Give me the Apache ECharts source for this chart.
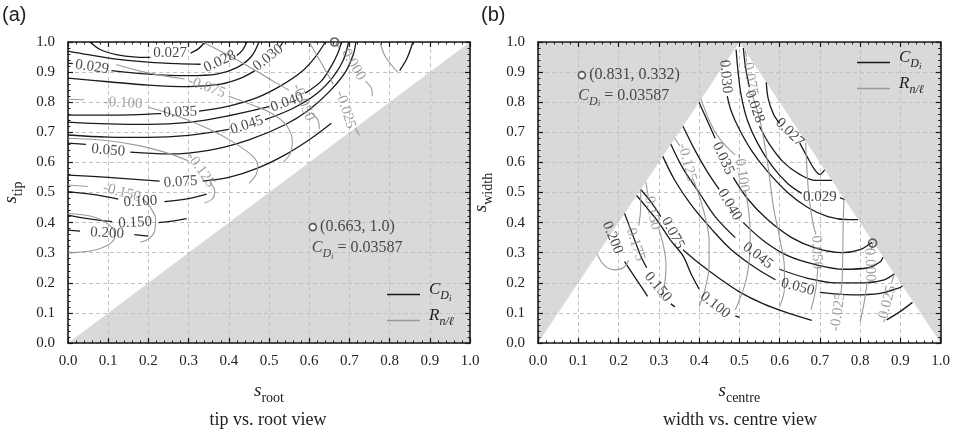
<!DOCTYPE html>
<html><head><meta charset="utf-8">
<script src="https://cdn.jsdelivr.net/npm/echarts@6/dist/echarts.min.js"></script>
<style>html,body{margin:0;padding:0;background:#fff}#c{width:953px;height:432px}</style>
</head><body><div id="c"></div><script>
// ---------- tick labels ----------
const tickLabels = ['0.0','0.1','0.2','0.3','0.4','0.5','0.6','0.7','0.8','0.9','1.0'];

// ---------- panel (a): C_Di contours (black) ----------
const c027a = [[0.055,1.0],[0.08,0.975],[0.12,0.958],[0.17,0.95],[0.205,0.949],null,[0.305,0.963],[0.325,0.978],[0.34,1.0]];
const c028a = [[0,0.97],[0.05,0.958],[0.12,0.943],[0.2,0.933],[0.27,0.928],[0.33,0.926],null,[0.42,0.955],[0.435,0.975],[0.445,1.0]];
const c029a = [[0,0.93],[0.012,0.928],null,[0.108,0.905],[0.2,0.893],[0.3,0.888],[0.37,0.893],[0.42,0.915],[0.455,0.95],[0.475,1.0]];
const c030a = [[0,0.88],[0.1,0.868],[0.2,0.857],[0.3,0.852],[0.38,0.86],[0.43,0.88],[0.465,0.905],null,[0.528,0.985],[0.535,1.0]];
const c035a = [[0,0.757],[0.1,0.757],[0.232,0.762],null,[0.326,0.77],[0.4,0.787],[0.47,0.815],[0.53,0.855],[0.58,0.9],[0.615,0.95],[0.64,1.0]];
const c040a = [[0,0.734],[0.1,0.728],[0.2,0.726],[0.3,0.733],[0.4,0.755],[0.5,0.785],null,[0.59,0.83],[0.63,0.87],[0.655,0.92],[0.672,0.965],[0.68,1.0]];
const c045a = [[0,0.691],[0.1,0.684],[0.2,0.683],[0.3,0.69],[0.4,0.71],null,[0.49,0.742],[0.56,0.78],[0.62,0.83],[0.66,0.885],[0.685,0.94],[0.698,1.0]];
const c050a = [[0,0.664],[0.045,0.66],null,[0.155,0.634],[0.25,0.628],[0.35,0.64],[0.45,0.675],[0.54,0.725],[0.6,0.775],[0.65,0.835],[0.69,0.9],[0.71,0.96],[0.716,1.0]];
const c075a = [[0,0.558],[0.1,0.55],[0.228,0.538],null,[0.335,0.538],[0.4,0.55],[0.47,0.58],[0.54,0.625],[0.6,0.675],[0.655,0.73],null,[0.825,0.905],[0.843,0.945],[0.858,1.0]];
const c100a = [[0,0.503],[0.07,0.492],[0.125,0.478],null,[0.24,0.47],[0.3,0.48],[0.345,0.495]];
const c150a = [[0,0.425],[0.05,0.413],[0.11,0.403],null,[0.225,0.4],[0.26,0.405],[0.295,0.413]];
const c200a = [[0,0.375],[0.03,0.372],null,[0.165,0.36],[0.2,0.355]];
// ---------- panel (a): R_n/l contours (grey) ----------
const g050a = [[0.335,1.0],[0.4,0.955],[0.46,0.91],[0.51,0.87],[0.55,0.84],null,[0.605,0.765],[0.622,0.74],[0.625,0.71]];
const g075a = [[0.12,0.925],[0.19,0.9],[0.29,0.877],null,[0.4,0.82],[0.46,0.79],[0.51,0.76],[0.545,0.72],[0.558,0.67],[0.553,0.63],[0.535,0.6]];
const g100a = [[0,0.81],[0.04,0.808],null,[0.2,0.783],[0.28,0.75],[0.36,0.705],[0.42,0.66],[0.46,0.62],[0.472,0.59],[0.468,0.56],[0.45,0.53]];
const g125a = [[0,0.68],[0.1,0.672],[0.18,0.655],[0.25,0.63],[0.3,0.605],null,[0.352,0.535],[0.365,0.505],[0.36,0.48],[0.34,0.465]];
const g150a = [[0,0.525],[0.05,0.52],null,[0.185,0.48],[0.205,0.45],[0.218,0.41],[0.215,0.37],[0.2,0.345],[0.18,0.335]];
const g200a = [[0,0.43],[0.06,0.42],[0.1,0.395],[0.117,0.36],[0.105,0.33],[0.07,0.31],[0.03,0.302],[0,0.3]];
const g025ma = [[0.6,1.0],[0.63,0.93],[0.66,0.86],null,[0.715,0.715],[0.725,0.69]];
const g000a = [[0.665,1.0],[0.675,0.98],null,[0.74,0.87],[0.755,0.845],[0.757,0.82]];
const g025a = [[0.776,1.0],[0.79,0.95],[0.82,0.9]];
// labels: [x, y, text, rotation]
const labBlackA = [[0.254,0.962,'0.027',0],[0.378,0.935,'0.028',25],[0.498,0.948,'0.030',38],[0.06,0.917,'0.029',-8],
  [0.279,0.767,'0.035',2],[0.545,0.80,'0.040',20],[0.445,0.724,'0.045',18],[0.1,0.64,'0.050',-5],
  [0.28,0.535,'0.075',4],[0.18,0.47,'0.100',3],[0.167,0.40,'0.150',3],[0.097,0.365,'0.200',-3]];
const labGreyA = [[0.345,0.85,'-0.075',-20],[0.137,0.797,'-0.100',-3],[0.33,0.575,'-0.125',-55],[0.134,0.50,'-0.150',-15],
  [0.585,0.80,'-0.050',-68],[0.69,0.775,'-0.025',-72],[0.71,0.925,'0.000',-60]];
const optA = [0.663,1.0];
const annotA = [[0.609,0.385],[0.605,0.300]];

// ---------- panel (b): C_Di contours (black) ----------
const c027b = [[0.567,0.866],[0.572,0.81],[0.585,0.76],[0.6,0.73],null,[0.65,0.665],[0.668,0.62],[0.685,0.58],[0.7,0.56],[0.712,0.575]];
const c028b = [[0.51,0.98],[0.515,0.92],[0.525,0.85],null,[0.55,0.72],[0.575,0.66],[0.61,0.6],[0.65,0.56],[0.69,0.54],[0.72,0.54],[0.73,0.54]];
const c029b = [[0.492,0.975],[0.497,0.9],[0.505,0.82],[0.52,0.74],[0.545,0.665],[0.58,0.59],[0.62,0.53],[0.655,0.497],null,[0.75,0.483],[0.762,0.476]];
const c030b = [[0.47,0.82],[0.48,0.77],[0.5,0.71],[0.53,0.64],[0.57,0.57],[0.62,0.5],[0.67,0.45],[0.72,0.42],[0.77,0.41],[0.795,0.41]];
const c035b = [[0.4,0.8],[0.42,0.74],[0.44,0.68],null,[0.485,0.55],[0.52,0.48],[0.57,0.41],[0.63,0.35],[0.69,0.315],[0.757,0.30],[0.8,0.31],[0.825,0.33],[0.83,0.335]];
const c040b = [[0.36,0.72],[0.39,0.64],[0.42,0.57],[0.45,0.51],null,[0.51,0.4],[0.56,0.34],[0.62,0.29],[0.69,0.26],[0.76,0.245],[0.82,0.25],[0.85,0.27],[0.857,0.285]];
const c045b = [[0.33,0.66],[0.36,0.58],[0.4,0.5],[0.44,0.42],[0.49,0.35],null,[0.6,0.245],[0.67,0.215],[0.74,0.2],[0.81,0.2],[0.86,0.21],[0.885,0.23]];
const c050b = [[0.31,0.62],[0.34,0.54],[0.38,0.46],[0.43,0.38],[0.48,0.31],[0.54,0.25],[0.59,0.21],null,[0.7,0.168],[0.78,0.16],[0.85,0.165],[0.9,0.185],[0.905,0.19]];
const c075b = [[0.255,0.51],[0.28,0.47],[0.305,0.42],null,[0.36,0.31],[0.4,0.265],[0.45,0.215],[0.5,0.17],[0.56,0.13],[0.62,0.1],[0.68,0.075],null,[0.866,0.077],[0.9,0.105],[0.93,0.135]];
const c100b = [[0.245,0.49],[0.27,0.45],[0.3,0.4],[0.33,0.34],[0.36,0.29],[0.38,0.23],[0.4,0.18],null,[0.49,0.09],[0.5,0.085]];
const c150b = [[0.215,0.43],[0.235,0.36],[0.255,0.29],[0.27,0.25],null,[0.33,0.13],[0.34,0.12]];
const c200b = [[0.215,0.27],[0.24,0.22],[0.265,0.17],[0.272,0.155]];
// ---------- panel (b): R_n/l contours (grey) ----------
const g075b = [[0.515,0.97],[0.518,0.95],null,[0.533,0.82],[0.545,0.77],[0.556,0.71],[0.57,0.6],[0.585,0.45],[0.6,0.35],[0.612,0.25],[0.612,0.18],[0.6,0.12]];
const g100b = [[0.405,0.81],[0.425,0.74],[0.445,0.69],[0.47,0.65],[0.49,0.625],null,[0.515,0.505],[0.522,0.45],[0.527,0.37],[0.525,0.28],[0.515,0.2],[0.49,0.11]];
const g125b = [[0.34,0.68],[0.352,0.655],null,[0.385,0.545],[0.4,0.49],[0.415,0.42],[0.425,0.34],[0.425,0.26],[0.415,0.18],[0.4,0.12]];
const g150b = [[0.268,0.535],[0.272,0.5],null,[0.3,0.38],[0.312,0.32],[0.318,0.26],[0.315,0.2],[0.305,0.15]];
const g175b = [[0.147,0.295],[0.165,0.258],[0.19,0.243],[0.212,0.25],[0.225,0.275],null,[0.25,0.39],[0.255,0.45],[0.255,0.51]];
const g050b = [[0.665,0.665],[0.667,0.6],[0.672,0.5],[0.68,0.42],[0.688,0.37],null,[0.695,0.255],[0.69,0.18],[0.678,0.11]];
const g025mb = [[0.76,0.48],[0.758,0.4],[0.757,0.3],[0.755,0.2],[0.752,0.165]];
const g000b = [[0.832,0.335],[0.828,0.31],null,[0.818,0.205],[0.812,0.15],[0.805,0.1],[0.8,0.07]];
const g025b = [[0.885,0.23],[0.878,0.2],null,[0.862,0.08],[0.858,0.07]];
const labBlackB = [[0.466,0.885,'0.030',-85],[0.538,0.785,'0.028',-70],[0.625,0.70,'0.027',-45],[0.70,0.485,'0.029',0],
  [0.46,0.613,'0.035',-65],[0.476,0.46,'0.040',-60],[0.546,0.29,'0.045',-38],[0.645,0.186,'0.050',-15],
  [0.335,0.365,'0.075',-62],[0.44,0.126,'0.100',-38],[0.298,0.186,'0.150',-50],[0.185,0.35,'0.200',-68]];
const labGreyB = [[0.526,0.885,'-0.075',-80],[0.506,0.565,'-0.100',-82],[0.37,0.60,'-0.125',-75],[0.283,0.44,'-0.150',-78],
  [0.24,0.335,'-0.175',-72],[0.692,0.31,'-0.050',-88],[0.745,0.103,'-0.025',82],[0.824,0.26,'0.000',-88],[0.868,0.136,'0.025',75]];
const optB = [0.831,0.332];
const annotB = [[0.109,0.89],[0.099,0.806]];

// shaded (infeasible) regions
const shadeA = [[0,0],[1,1]];
const shadeB = [[0,0],[0.5,1],[1,0]];

const blackA = [c027a,c028a,c029a,c030a,c035a,c040a,c045a,c050a,c075a,c100a,c150a,c200a];
const greyA = [g050a,g075a,g100a,g125a,g150a,g200a,g025ma,g000a,g025a];
const blackB = [c027b,c028b,c029b,c030b,c035b,c040b,c045b,c050b,c075b,c100b,c150b,c200b];
const greyB = [g075b,g100b,g125b,g150b,g175b,g050b,g025mb,g000b,g025b];

// ---------- styles ----------
const SERIF = '"Liberation Serif","DejaVu Serif",serif';
const INK = '#1a1a1a', GREY = '#9a9a9a', SHADE = '#d9d9db';
function rich(sz, color){
  const s1 = Math.round(sz*0.72), s2 = Math.round(sz*0.55);
  const base = {fontFamily:SERIF, color:color||INK, verticalAlign:'bottom'};
  return {
    i: Object.assign({}, base, {fontStyle:'italic', fontSize:sz, lineHeight:sz, padding:[0,0,Math.round(sz*0.3),0]}),
    n: Object.assign({}, base, {fontSize:sz, lineHeight:sz, padding:[0,0,Math.round(sz*0.3),0]}),
    s1: Object.assign({}, base, {fontStyle:'italic', fontSize:s1, lineHeight:s1, padding:[0,0,1,0]}),
    s2: Object.assign({}, base, {fontStyle:'italic', fontSize:s2, lineHeight:s2}),
    r1: Object.assign({}, base, {fontSize:s1, lineHeight:s1, padding:[0,0,1,0]}),
    sp: Object.assign({}, base, {fontSize:sz, lineHeight:sz, width:4})
  };
}
const CDtxt = '{i|C}{s1|D}{s2|i}';
const Rtxt = '{i|R}{s1|n/ℓ}';

function xAx(g, top, name){
  return {type:'value', gridIndex:g, min:0, max:1, interval:0.1, position: top?'top':'bottom',
    axisLine:{show:true, onZero:false, lineStyle:{color:INK, width:1.6}},
    axisTick:{show:true, inside:true, length:5, lineStyle:{color:INK, width:1.2}},
    minorTick:{show:true, splitNumber:5, length:2.5, lineStyle:{color:INK, width:1}},
    axisLabel:{show:!top, margin:11, fontFamily:SERIF, fontSize:15, color:'#222',
      formatter:v=>tickLabels[Math.round(v*10)]},
    splitLine:{show:!top, lineStyle:{color:'#c2c2c2', type:[4,3], width:1}},
    name: top?'':name, nameLocation:'middle', nameGap:44,
    nameTextStyle:{rich:rich(19)}};
}
function yAx(g, right, name){
  return {type:'value', gridIndex:g, min:0, max:1, interval:0.1, position: right?'right':'left',
    axisLine:{show:true, onZero:false, lineStyle:{color:INK, width:1.6}},
    axisTick:{show:true, inside:true, length:5, lineStyle:{color:INK, width:1.2}},
    minorTick:{show:true, splitNumber:5, length:2.5, lineStyle:{color:INK, width:1}},
    axisLabel:{show:!right, margin:13, fontFamily:SERIF, fontSize:15, color:'#222',
      formatter:v=>tickLabels[Math.round(v*10)]},
    splitLine:{show:!right, lineStyle:{color:'#c2c2c2', type:[4,3], width:1}},
    name: right?'':name, nameLocation:'middle', nameGap:42, nameRotate:90,
    nameTextStyle:{rich:rich(19)}};
}

const series = [];
function addLines(list, ax, name, color, width){
  list.forEach(d=>series.push({type:'line', name, xAxisIndex:ax, yAxisIndex:ax, data:d.map(p=>p===null?[null,null]:p),
    smooth:0.35, symbol:'none', showSymbol:false, connectNulls:false, silent:true,
    lineStyle:{color, width}, itemStyle:{color}, z:3}));
}
function addLabels(list, ax, color){
  series.push({type:'scatter', name:'lab', xAxisIndex:ax, yAxisIndex:ax, symbolSize:1, silent:true, z:4,
    itemStyle:{color:'transparent'},
    label:{show:true, position:'inside', fontFamily:SERIF, fontSize:15, color},
    data:list.map(l=>({value:[l[0],l[1]], label:{formatter:l[2], rotate:l[3]}}))});
}
function addShade(data, ax, origin){
  series.push({type:'line', name:'shade', xAxisIndex:ax, yAxisIndex:ax, data, symbol:'none', silent:true,
    lineStyle:{width:0, color:SHADE}, itemStyle:{color:SHADE}, areaStyle:{color:SHADE, opacity:1, origin}, z:-1});
}
function addAnnot(opt, annot, ax, txt1){
  series.push({type:'scatter', name:'opt', xAxisIndex:ax, yAxisIndex:ax, symbol:'circle', symbolSize:8, clip:false, z:6, silent:true,
    itemStyle:{color:'rgba(255,255,255,0)', borderColor:'#444', borderWidth:1.7}, data:[opt]});
  series.push({type:'scatter', name:'annot', xAxisIndex:ax, yAxisIndex:ax, symbol:'circle', symbolSize:7, z:6, silent:true,
    itemStyle:{color:'#fff', borderColor:'#333', borderWidth:1.6},
    label:{show:true, position:'right', distance:3, fontFamily:SERIF, fontSize:16, color:'#222', formatter:txt1},
    data:[annot[0]]});
  series.push({type:'scatter', name:'annot2', xAxisIndex:ax, yAxisIndex:ax, symbolSize:1, z:6, silent:true,
    itemStyle:{color:'transparent'},
    label:{show:true, position:'right', distance:0, formatter:CDtxt+'{n| = 0.03587}', rich:rich(16,'#222')},
    data:[annot[1]]});
}

addShade(shadeA, 0, 'start');
addShade(shadeB, 2, 'end');
addLines(blackA, 0, 'CD', INK, 1.3);
addLines(greyA, 0, 'R', GREY, 1.1);
addLines(blackB, 2, 'CD', INK, 1.3);
addLines(greyB, 2, 'R', GREY, 1.1);
addLabels(labBlackA, 0, INK);
addLabels(labGreyA, 0, '#8a8a8a');
addLabels(labBlackB, 2, INK);
addLabels(labGreyB, 2, '#8a8a8a');
addAnnot(optA, annotA, 0, '(0.663, 1.0)');
addAnnot(optB, annotB, 2, '(0.831, 0.332)');

function legend(left, top){
  return {data:['CD','R'], orient:'vertical', left, top, itemWidth:33, itemHeight:1.5, icon:'rect', itemGap:4, selectedMode:false,
    formatter:n=> n==='CD' ? '{sp|}'+CDtxt : '{sp|}'+Rtxt,
    textStyle:{rich:rich(17,'#222')}};
}

const chart = echarts.init(document.getElementById('c'), null, {renderer:'canvas'});
chart.setOption({
  animation:false,
  grid:[{left:68, right:483, top:42, bottom:89},{left:538, right:12, top:42, bottom:89}],
  xAxis:[xAx(0,false,'{i|s}{r1|root}'), xAx(0,true), xAx(1,false,'{i|s}{r1|centre}'), xAx(1,true)],
  yAxis:[yAx(0,false,'{i|s}{r1|tip}'), yAx(0,true), yAx(1,false,'{i|s}{r1|width}'), yAx(1,true)],
  legend:[legend(382,276), legend(852,44)],
  graphic:[
    {type:'text', x:2, y:5, style:{text:'(a)', font:'20px "Liberation Sans", Arial, sans-serif', fill:'#222'}},
    {type:'text', x:481, y:5, style:{text:'(b)', font:'20px "Liberation Sans", Arial, sans-serif', fill:'#222'}},
    {type:'text', x:268, y:420, style:{text:'tip vs. root view', align:'center', verticalAlign:'middle', font:'18px "Liberation Serif", serif', fill:'#222'}},
    {type:'text', x:740, y:420, style:{text:'width vs. centre view', align:'center', verticalAlign:'middle', font:'18px "Liberation Serif", serif', fill:'#222'}}
  ],
  series
});
</script></body></html>
